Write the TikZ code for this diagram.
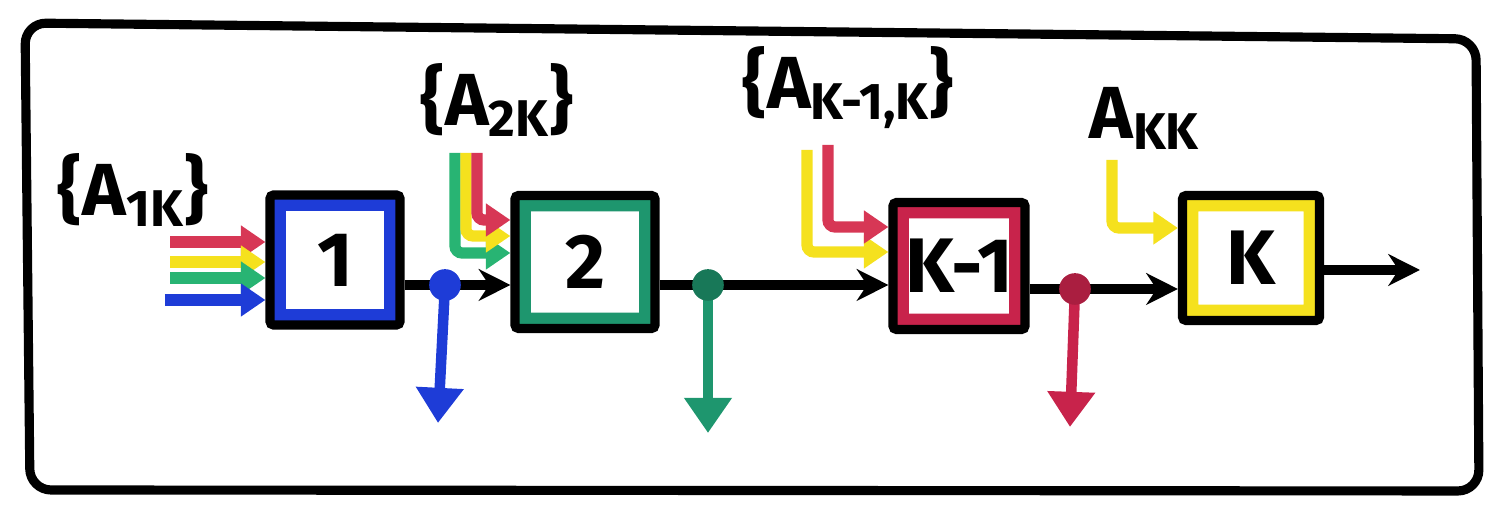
\documentclass[tikz,border=0pt]{standalone}
\usepackage{fontspec}
\setmainfont{Fira Sans}
\usetikzlibrary{arrows.meta,calc}

\definecolor{cblue}{RGB}{30,60,215}
\definecolor{cgreen}{RGB}{30,150,110}
\definecolor{ccrim}{RGB}{200,35,75}
\definecolor{cyel}{RGB}{245,225,30}
\definecolor{cred}{RGB}{215,55,85}
\definecolor{cgrn}{RGB}{40,180,115}

\tikzset{
  stage/.style={draw=black, line width=2.6pt, fill=white, rounded corners=1pt,
    font=\fontsize{22}{24}\selectfont\bfseries,
    path picture={\draw[line width=9pt,#1]
      (path picture bounding box.south west) rectangle (path picture bounding box.north east);}},
  flow/.style={line width=2.6pt, black, -{Stealth[length=9pt,width=9pt]}},
  feed/.style={line width=3.2pt, #1, -{Triangle[length=7pt,width=9pt]}},
  tap/.style={line width=3pt, #1, -{Triangle[length=10pt,width=13pt]}},
  dot/.style={circle, fill=#1, inner sep=0pt, minimum size=9pt},
  lbl/.style={font=\fontsize{21}{23}\selectfont\bfseries}
}

\begin{document}
\begin{tikzpicture}
\useasboundingbox (0,0) rectangle (14.97,5.09);

% hand-drawn frame
\draw[line width=2.6pt, line join=round, rounded corners=6pt]
  (0.25,4.86) -- (14.76,4.70) -- (14.79,0.18) -- (0.30,0.19) -- cycle;

% stages
\node[stage=cblue, minimum width=1.30cm, minimum height=1.30cm] (b1) at (3.35,2.49) {1};
\node[stage=cgreen, minimum width=1.40cm, minimum height=1.33cm] (b2) at (5.85,2.47) {2};
\node[stage=ccrim, minimum width=1.32cm, minimum height=1.27cm] (b3) at (9.59,2.43) {K-1};
\node[stage=cyel, minimum width=1.37cm, minimum height=1.25cm] (b4) at (12.51,2.51) {K};

% labels
\node[lbl] (l1) at (1.33,3.19) {\{A\textsubscript{1K}\}};
\node[lbl] (l2) at (4.97,4.09) {\{A\textsubscript{2K}\}};
\node[lbl] (l3) at (8.48,4.21) {\{A\textsubscript{K-1,K}\}};
\node[lbl] (l4) at (11.45,3.91) {A\textsubscript{KK}};

% branch points on the main line
\coordinate (d1) at (4.45,2.24);
\coordinate (d2) at (7.08,2.24);
\coordinate (d3) at (10.75,2.20);
\coordinate (out) at (14.20,2.39);

% main line
\draw[flow] (b1.east|-d1) -- (b2.west|-d1);
\draw[flow] (b2.east|-d2) -- (b3.west|-d2);
\draw[flow] (b3.east|-d3) -- (b4.west|-d3);
\draw[flow] (b4.east|-out) -- (out);

% taps
\coordinate (t1) at (4.38,0.86);
\coordinate (t2) at (7.08,0.76);
\coordinate (t3) at (10.70,0.82);
\draw[tap=cblue] (d1) -- (t1);
\draw[tap=cgreen] (d2) -- (t2);
\draw[tap=ccrim] (d3) -- (t3);
\node[dot=cblue] (p1) at (d1) {};
\node[dot=cgreen!80!black] (p2) at (d2) {};
\node[dot=ccrim!85!black] (p3) at (d3) {};

% inputs to stage 1
\coordinate (i1) at (1.70,2.67);
\coordinate (i2) at (1.70,2.47);
\coordinate (i3) at (1.70,2.31);
\coordinate (i4) at (1.65,2.09);
\draw[feed=cred] (i1) -- (b1.west|-i1);
\draw[feed=cyel] (i2) -- (b1.west|-i2);
\draw[feed=cgrn] (i3) -- (b1.west|-i3);
\draw[feed=cblue] (i4) -- (b1.west|-i4);

% inputs to stage 2
\coordinate (j1) at (4.55,3.56);
\coordinate (j2) at (4.66,3.56);
\coordinate (j3) at (4.77,3.56);
\draw[feed=cgrn, rounded corners=2pt] (j1) |- ($(b2.west)+(0,0.09)$);
\draw[feed=cyel, rounded corners=2pt] (j2) |- ($(b2.west)+(0,0.26)$);
\draw[feed=cred, rounded corners=2pt] (j3) |- ($(b2.west)+(0,0.42)$);

% inputs to stage K-1
\coordinate (k1) at (8.07,3.59);
\coordinate (k2) at (8.28,3.64);
\draw[feed=cyel, rounded corners=2pt] (k1) |- ($(b3.west)+(0,0.14)$);
\draw[feed=cred, rounded corners=2pt] (k2) |- ($(b3.west)+(0,0.39)$);

% input to stage K
\coordinate (m1) at (11.12,3.49);
\draw[feed=cyel, rounded corners=2pt] (m1) |- ($(b4.west)+(0,0.30)$);
\end{tikzpicture}
\end{document}
